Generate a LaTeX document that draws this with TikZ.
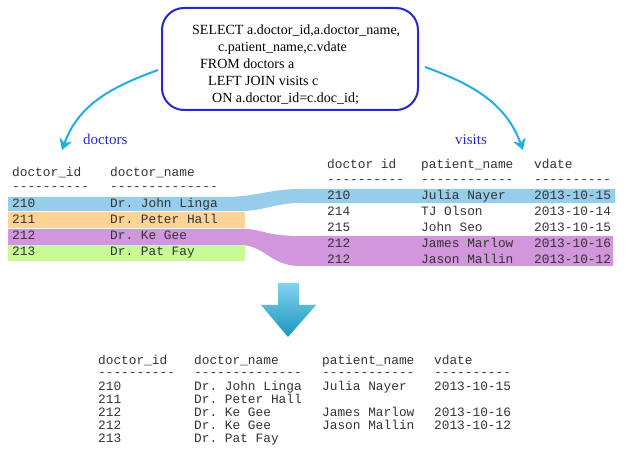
\documentclass[tikz,border=0pt]{standalone}
\usepackage{fontspec}
\setmainfont{Liberation Serif}
\setmonofont{Liberation Mono}
\usetikzlibrary{arrows.meta}
\definecolor{boxblue}{RGB}{40,40,200}
\definecolor{arrcyan}{RGB}{30,175,225}
\definecolor{rowblue}{RGB}{150,205,235}
\definecolor{roworange}{RGB}{255,210,150}
\definecolor{rowpurple}{RGB}{210,150,220}
\definecolor{rowgreen}{RGB}{200,250,150}
\begin{document}
\begin{tikzpicture}[x=1pt,y=-1pt,
    sq/.style={anchor=base west, inner sep=0pt, font=\fontsize{14}{16}\selectfont},
    tt/.style={anchor=base west, inner sep=0pt, font=\ttfamily\fontsize{12.8}{15}\selectfont, text=black!80},
    lbl/.style={anchor=base west, inner sep=0pt, font=\fontsize{15}{17}\selectfont, text=boxblue},
    tablearrow/.style={arrcyan, line width=2pt, -{Stealth[length=11pt,width=13pt]}}]
  \useasboundingbox (0,0) rectangle (627,457);
  % query box
  \node[draw=boxblue, line width=2pt, rounded corners=22pt, minimum width=256pt, minimum height=102pt] (query) at (290,59) {};
  \node[sq] (q1) at (192,35) {SELECT a.doctor\_id,a.doctor\_name,};
  \node[sq] (q2) at (218,52) {c.patient\_name,c.vdate};
  \node[sq] (q3) at (200,69) {FROM doctors a};
  \node[sq] (q4) at (208,86) {LEFT JOIN visits c};
  \node[sq] (q5) at (212,103) {ON a.doctor\_id=c.doc\_id;};
  \coordinate (dl) at (62,150);
  \coordinate (vl) at (523,150);
  \draw[tablearrow] (158,70) to[out=200,in=70] (dl);
  \draw[tablearrow] (425,67) to[out=-20,in=110] (vl);
  \node[lbl] (ldoc) at (83,145) {doctors};
  \node[lbl] (lvis) at (455,145) {visits};
  % highlight bands
  \fill[rowblue] (8,197) -- (225,197) .. controls (255,197) and (270,189) .. (300,189) -- (615,189)
    -- (615,203) -- (300,203) .. controls (275,203) and (265,211) .. (240,211) -- (8,211) -- cycle;
  \fill[roworange] (8,212) rectangle (245,228);
  \fill[rowpurple] (8,229) -- (245,229) .. controls (262,229) and (265,236) .. (300,236) -- (613,236)
    -- (613,266) -- (300,266) .. controls (270,266) and (265,245) .. (240,245) -- (8,245) -- cycle;
  \fill[rowgreen] (8,245.5) rectangle (245,261);
  % doctors table
  \node[tt] (dh1) at (12,177) {doctor\_id};
  \node[tt] (dh2) at (110,177) {doctor\_name};
  \node[tt] (dd1) at (12,191) {----------};
  \node[tt] (dd2) at (110,191) {--------------};
  \foreach \y/\i/\n in {208/210/John Linga, 224/211/Peter Hall, 240/212/Ke Gee, 256/213/Pat Fay}{
    \node[tt] (d\i) at (12,\y) {\i};
    \node[tt] (n\i) at (110,\y) {Dr. \n};
  }
  % visits table
  \node[tt] (vh1) at (327,169) {doctor id};
  \node[tt] (vh2) at (421,169) {patient\_name};
  \node[tt] (vh3) at (534,169) {vdate};
  \node[tt] (vd1) at (327,184) {----------};
  \node[tt] (vd2) at (421,184) {------------};
  \node[tt] (vd3) at (534,184) {----------};
  \foreach \y/\i/\n/\d [count=\k] in {200/210/Julia Nayer/2013-10-15, 216/214/TJ Olson/2013-10-14,
      232/215/John Seo/2013-10-15, 248/212/James Marlow/2013-10-16, 264/212/Jason Mallin/2013-10-12}{
    \node[tt] (vi\k) at (327,\y) {\i};
    \node[tt] (vp\k) at (421,\y) {\n};
    \node[tt] (vt\k) at (534,\y) {\d};
  }
  % big down arrow
  \shade[top color=arrcyan!55, bottom color=arrcyan!85!black]
    (278,283) -- (299,283) -- (299,305) -- (316,305) -- (288,337) -- (261,305) -- (278,305) -- cycle;
  % result table
  \node[tt] (rh1) at (98,364) {doctor\_id};
  \node[tt] (rh2) at (194,364) {doctor\_name};
  \node[tt] (rh3) at (322,364) {patient\_name};
  \node[tt] (rh4) at (434,364) {vdate};
  \node[tt] (rd1) at (98,377) {----------};
  \node[tt] (rd2) at (194,377) {--------------};
  \node[tt] (rd3) at (322,377) {------------};
  \node[tt] (rd4) at (434,377) {----------};
  \foreach \y/\i/\n/\p/\d [count=\k] in {390/210/John Linga/Julia Nayer/2013-10-15, 403/211/Peter Hall//,
      416/212/Ke Gee/James Marlow/2013-10-16, 429/212/Ke Gee/Jason Mallin/2013-10-12, 442/213/Pat Fay//}{
    \node[tt] (ri\k) at (98,\y) {\i};
    \node[tt] (rn\k) at (194,\y) {Dr. \n};
    \node[tt] (rp\k) at (322,\y) {\p};
    \node[tt] (rt\k) at (434,\y) {\d};
  }
\end{tikzpicture}
\end{document}
